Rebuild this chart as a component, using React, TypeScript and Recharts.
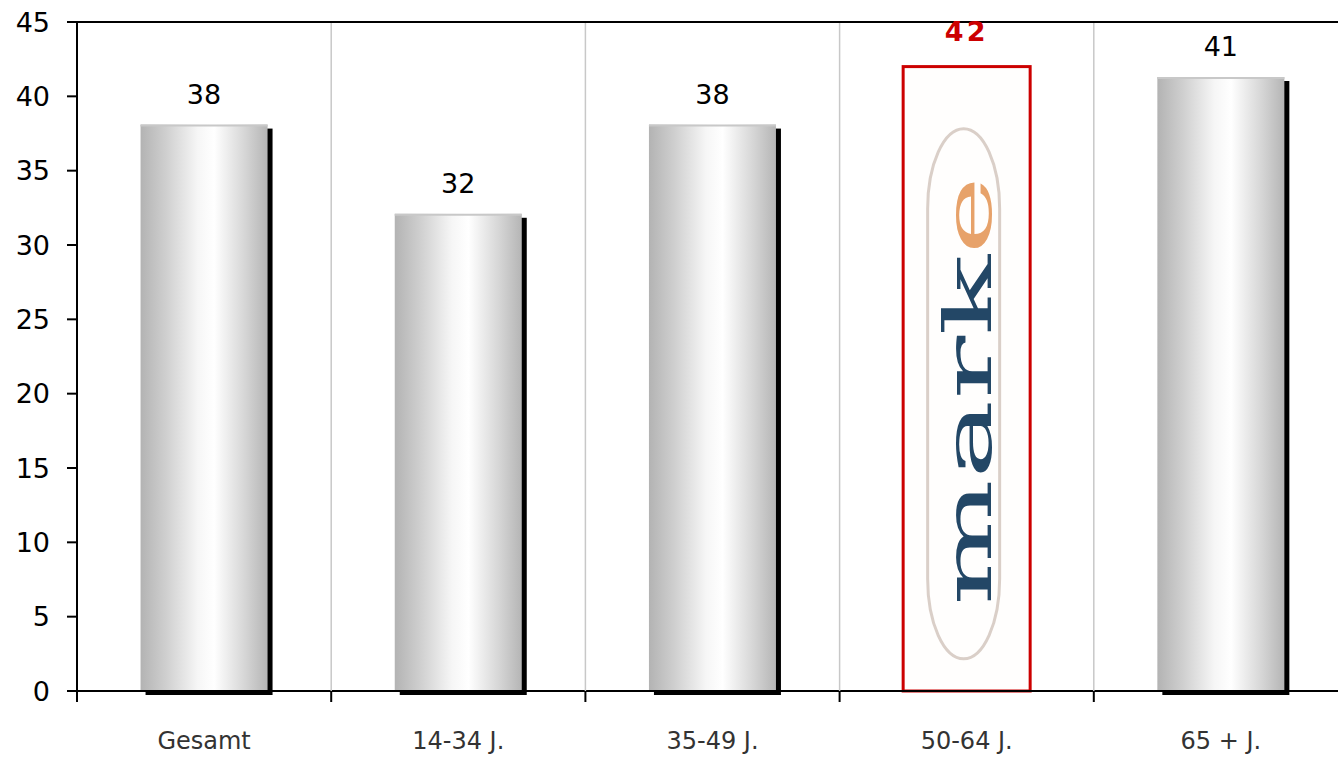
import { BarChart, Bar, XAxis, YAxis, LabelList, ReferenceLine } from 'recharts';

const categories = ['Gesamt', '14-34 J.', '35-49 J.', '50-64 J.', '65 + J.'];
const values = [38.1, 32.1, 38.1, 42, 41.3];
const highlighted = [false, false, false, true, false];
const yTicks = [0, 5, 10, 15, 20, 25, 30, 35, 40, 45];

const WIDTH = 1350;
const HEIGHT = 758;
const MARGIN = { top: 22, right: 2, left: 0, bottom: 0 };
const X_AXIS_H = 67;
const PLOT_H = HEIGHT - MARGIN.top - MARGIN.bottom - X_AXIS_H;
const FONT = '"DejaVu Sans", "Liberation Sans", sans-serif';

const data = categories.map((name, i) => ({ name, value: values[i] }));

// category label at the centre, boundary tick + vertical grid line at the band edges
function BottomTick({ x, y, payload, index }: any) {
  const half = payload.offset || 0;
  const left = x - half;
  const right = x + half;
  return (
    <g>
      {index > 0 && (
        <line x1={left} x2={left} y1={y - PLOT_H + 1} y2={y} stroke="#c8c8c8" strokeWidth={1.5} />
      )}
      <line x1={left} x2={left} y1={y} y2={y + 11} stroke="#000" strokeWidth={2} />
      {index === categories.length - 1 && (
        <line x1={right} x2={right} y1={y} y2={y + 11} stroke="#000" strokeWidth={2} />
      )}
      <text x={x} y={y + 58} textAnchor="middle" fontFamily={FONT} fontSize={24} fill="#333">
        {payload.value}
      </text>
    </g>
  );
}

function BarShape(props: any) {
  const { x, y, width, height, index } = props;
  if (highlighted[index]) {
    const cx = x + width / 2 - 3;
    const cy = y + height / 2 + 15;
    return (
      <g>
        <rect x={x} y={y} width={width} height={height} fill="#fffefd" stroke="#cc0000" strokeWidth={3} />
        <rect x={cx - 36} y={cy - 265} width={72} height={530} rx={36} ry={80}
          fill="none" stroke="#dacfc8" strokeWidth={3} />
        <g transform={`translate(${cx + 27}, ${cy - 3}) rotate(-90)`}>
          <text
            x={0}
            y={0}
            textAnchor="middle"
            fontFamily='"DejaVu Serif", "Liberation Serif", serif'
            fontSize={66}
            textLength={430}
            lengthAdjust="spacingAndGlyphs"
            fill="#234766"
          >
            mark<tspan fill="#e7a26a">e</tspan>
          </text>
        </g>
      </g>
    );
  }
  return (
    <g>
      <rect x={x + 5} y={y + 4} width={width} height={height} fill="#000" />
      <rect x={x} y={y} width={width} height={height} fill="url(#cyl)" />
      <line x1={x} x2={x + width} y1={y + 1} y2={y + 1} stroke="#c8c8c8" strokeWidth={2} />
    </g>
  );
}

function ValueLabel(props: any) {
  const { x, y, width, value, index } = props;
  const text = Math.round(value);
  if (highlighted[index]) {
    return (
      <text x={x + width / 2} y={y - 26} textAnchor="middle" fontFamily={FONT} fontSize={27}
        fontWeight="bold" letterSpacing={3} fill="#cc0000">
        {text}
      </text>
    );
  }
  return (
    <text x={x + width / 2} y={y - 21} textAnchor="middle" fontFamily={FONT} fontSize={27} fill="#000">
      {text}
    </text>
  );
}

export default function App() {
  return (
    <div style={{ position: 'absolute', left: 0, top: 0, width: 1338, height: 758, overflow: 'hidden', background: '#fff' }}>
      <BarChart width={WIDTH} height={HEIGHT} data={data} margin={MARGIN} barCategoryGap="25%">
        <defs>
          <linearGradient id="cyl" x1="0" y1="0" x2="1" y2="0">
            <stop offset="0%" stopColor="#b3b3b3" />
            <stop offset="20%" stopColor="#cfcfcf" />
            <stop offset="45%" stopColor="#f6f6f6" />
            <stop offset="58%" stopColor="#ffffff" />
            <stop offset="82%" stopColor="#d6d6d6" />
            <stop offset="100%" stopColor="#b5b5b5" />
          </linearGradient>
        </defs>
        <XAxis
          dataKey="name"
          interval={0}
          height={X_AXIS_H}
          tickLine={false}
          tickSize={0}
          tickMargin={0}
          tick={<BottomTick />}
          axisLine={{ stroke: '#000', strokeWidth: 2 }}
        />
        <YAxis
          type="number"
          domain={[0, 45]}
          ticks={yTicks}
          interval={0}
          width={77}
          tickSize={10}
          tickMargin={17}
          stroke="#000"
          axisLine={{ stroke: '#000', strokeWidth: 2 }}
          tickLine={{ stroke: '#000', strokeWidth: 2 }}
          tick={{ fill: '#000', fontSize: 27, fontFamily: FONT }}
        />
        <ReferenceLine y={45} stroke="#000" strokeWidth={2} />
        <Bar dataKey="value" shape={<BarShape />} isAnimationActive={false}>
          <LabelList dataKey="value" content={<ValueLabel />} />
        </Bar>
      </BarChart>
    </div>
  );
}
